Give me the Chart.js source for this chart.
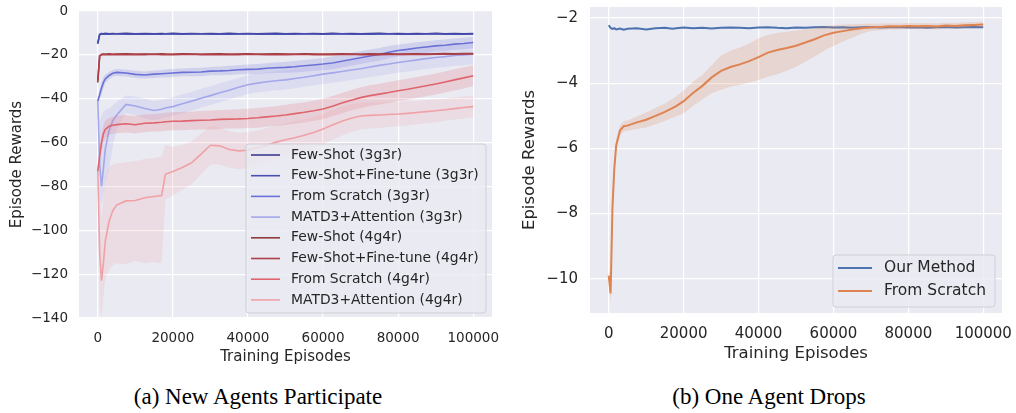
<!DOCTYPE html>
<html>
<head>
<meta charset="utf-8">
<script src="https://cdn.jsdelivr.net/npm/chart.js@4.4.1/dist/chart.umd.min.js"></script>
<style>
  body { margin: 0; background: #fff; width: 1016px; height: 413px; position: relative; overflow: hidden; }
  canvas { position: absolute; top: 0; }
  #leftChart { left: 0; }
  #rightChart { left: 508px; }
  .cap { position: absolute; top: 384px; font-family: 'Liberation Serif', 'Times New Roman', serif; font-size: 23px; color: #000; white-space: nowrap; transform: translateX(-50%); }
</style>
</head>
<body>
<canvas id="leftChart" width="508" height="372"></canvas>
<canvas id="rightChart" width="508" height="372"></canvas>
<div class="cap" style="left:258px">(a) New Agents Participate</div>
<div class="cap" style="left:769px">(b) One Agent Drops</div>
<script>
// Shared x positions (training episodes)
const episodes = [0, 500, 1000, 1500, 2000, 3000, 4000, 5000, 7500, 10000, 12500, 15000, 17000, 18000,
    20000, 22500, 25000, 27500, 30000, 32500, 35000, 37500, 40000, 42500, 45000, 47500, 50000, 52500,
    55000, 57500, 60000, 62500, 65000, 67500, 70000, 72500, 75000, 77500, 80000, 82500, 85000, 87500,
    90000, 92500, 95000, 97500, 100000];

const xTicks = [0, 20000, 40000, 60000, 80000, 100000];
const leftYTicks = [-140, -120, -100, -80, -60, -40, -20, 0];
const rightYTicks = [-10, -8, -6, -4, -2];

// (a) New Agents Participate
const leftLabels = ['Few-Shot (3g3r)', 'Few-Shot+Fine-tune (3g3r)', 'From Scratch (3g3r)', 'MATD3+Attention (3g3r)',
    'Few-Shot (4g4r)', 'Few-Shot+Fine-tune (4g4r)', 'From Scratch (4g4r)', 'MATD3+Attention (4g4r)'];
const leftColors = ['#3b3e8f', '#4a4fb3', '#6b70d6', '#a4a7ea', '#8e3a3a', '#b2404a', '#df646c', '#efa1a6'];

const fewShot3 = [-15.0, -10.6, -10.3, -10.4, -10.2, -10.4, -10.3, -10.4, -10.2, -10.4, -10.3, -10.4, -10.3, -10.4, -10.2, -10.4, -10.3, -10.4, -10.3, -10.4, -10.2, -10.4, -10.3, -10.4, -10.3, -10.2, -10.4, -10.3, -10.4, -10.3, -10.4, -10.2, -10.4, -10.3, -10.4, -10.3, -10.2, -10.4, -10.3, -10.4, -10.3, -10.4, -10.2, -10.4, -10.3, -10.4, -10.3];
const fineTune3 = [-14.5, -10.8, -10.5, -10.6, -10.5, -10.6, -10.5, -10.4, -10.6, -10.5, -10.6, -10.5, -10.6, -10.4, -10.5, -10.6, -10.5, -10.4, -10.6, -10.5, -10.6, -10.5, -10.4, -10.6, -10.5, -10.6, -10.5, -10.6, -10.4, -10.5, -10.6, -10.5, -10.4, -10.6, -10.5, -10.6, -10.5, -10.4, -10.6, -10.5, -10.6, -10.5, -10.4, -10.6, -10.5, -10.6, -10.5];
const scratch3 = [-41.0, -38.2, -35.1, -32.6, -31.0, -29.4, -28.4, -28.0, -28.3, -28.9, -29.2, -28.8, -28.6, -28.5, -28.3, -28.0, -27.9, -27.8, -27.4, -27.3, -27.1, -26.8, -26.6, -26.5, -26.1, -25.9, -25.7, -25.4, -25.0, -24.6, -24.2, -23.7, -22.9, -22.1, -21.3, -20.5, -19.8, -18.8, -18.0, -17.5, -16.9, -16.4, -15.9, -15.6, -15.1, -14.8, -14.4];
const scratch3Hi = [-40.0, -36.0, -32.5, -30.0, -29.0, -27.8, -26.9, -26.4, -26.7, -27.2, -27.6, -27.1, -26.9, -26.7, -26.5, -26.2, -26.0, -25.9, -25.5, -25.3, -25.0, -24.7, -24.4, -24.2, -23.8, -23.5, -23.2, -22.8, -22.3, -21.9, -21.4, -20.8, -20.0, -19.2, -18.4, -17.6, -16.9, -16.0, -15.3, -14.8, -14.3, -13.8, -13.3, -13.0, -12.5, -12.2, -11.8];
const scratch3Lo = [-42.0, -40.5, -37.8, -35.2, -33.0, -31.0, -29.9, -29.6, -29.9, -30.6, -30.8, -30.5, -30.3, -30.3, -30.1, -29.8, -29.8, -29.7, -29.3, -29.3, -29.2, -28.9, -28.8, -28.8, -28.4, -28.3, -28.2, -28.0, -27.7, -27.3, -27.0, -26.6, -25.8, -25.0, -24.2, -23.4, -22.7, -21.6, -20.7, -20.2, -19.5, -19.0, -18.5, -18.2, -17.7, -17.4, -17.0];
const attn3 = [-41.0, -70.0, -80.0, -72.0, -63.0, -54.5, -50.0, -47.5, -42.6, -43.3, -44.5, -45.4, -44.8, -44.2, -43.6, -42.3, -41.1, -39.8, -38.6, -37.3, -36.1, -34.8, -33.6, -32.9, -32.3, -31.8, -31.4, -30.8, -30.2, -29.5, -28.8, -28.2, -27.6, -26.9, -26.3, -25.5, -24.8, -24.2, -23.5, -22.9, -22.3, -21.7, -21.2, -20.8, -20.3, -20.0, -19.7];
const attn3Hi = [-40.0, -50.0, -48.0, -46.0, -45.0, -44.5, -43.0, -41.5, -38.5, -39.0, -40.0, -41.0, -40.5, -40.0, -39.5, -38.0, -36.8, -35.5, -34.3, -33.0, -31.8, -30.5, -29.3, -28.6, -28.0, -27.5, -27.0, -26.4, -25.8, -25.0, -24.3, -23.7, -23.0, -22.3, -21.7, -20.9, -20.1, -19.5, -18.8, -18.2, -17.6, -17.0, -16.5, -16.1, -15.6, -15.3, -15.0];
const attn3Lo = [-42.0, -86.0, -88.0, -84.0, -78.0, -72.0, -62.0, -54.0, -46.5, -47.5, -49.0, -49.8, -49.1, -48.5, -47.8, -46.6, -45.4, -44.1, -42.9, -41.6, -40.4, -39.1, -37.9, -37.2, -36.6, -36.1, -35.8, -35.2, -34.6, -34.0, -33.3, -32.7, -32.2, -31.5, -30.9, -30.1, -29.5, -28.9, -28.2, -27.6, -27.0, -26.4, -25.9, -25.5, -25.0, -24.7, -24.4];
const fewShot4 = [-32.6, -20.4, -19.8, -19.6, -19.7, -19.5, -19.7, -19.6, -19.5, -19.7, -19.6, -19.7, -19.5, -19.6, -19.7, -19.5, -19.6, -19.7, -19.6, -19.5, -19.7, -19.6, -19.5, -19.7, -19.6, -19.5, -19.6, -19.7, -19.5, -19.6, -19.7, -19.6, -19.5, -19.6, -19.7, -19.5, -19.6, -19.5, -19.7, -19.6, -19.5, -19.6, -19.5, -19.4, -19.5, -19.4, -19.4];
const fineTune4 = [-31.5, -20.6, -19.9, -19.8, -19.9, -19.8, -19.9, -19.8, -19.9, -19.8, -19.9, -19.7, -19.9, -19.8, -19.9, -19.8, -19.7, -19.9, -19.8, -19.9, -19.8, -19.9, -19.7, -19.8, -19.9, -19.8, -19.9, -19.8, -19.7, -19.9, -19.8, -19.9, -19.8, -19.7, -19.9, -19.8, -19.9, -19.8, -19.7, -19.8, -19.7, -19.8, -19.7, -19.6, -19.7, -19.6, -19.6];
const scratch4 = [-73.0, -66.0, -60.0, -56.0, -54.0, -52.6, -52.1, -51.8, -51.4, -51.9, -51.2, -51.0, -50.7, -50.5, -50.3, -50.2, -50.0, -49.8, -49.7, -49.4, -49.3, -49.2, -49.0, -48.7, -48.3, -47.9, -47.4, -46.8, -46.2, -45.5, -44.7, -43.4, -42.0, -40.7, -39.5, -38.6, -37.9, -37.2, -36.4, -35.7, -34.9, -34.1, -33.3, -32.4, -31.4, -30.5, -29.5];
const scratch4Hi = [-71.0, -62.0, -56.0, -52.0, -50.0, -48.8, -48.2, -47.8, -47.4, -47.9, -47.2, -47.0, -46.6, -46.4, -46.2, -46.0, -45.8, -45.6, -45.4, -45.1, -45.0, -44.8, -44.6, -44.2, -43.8, -43.4, -42.8, -42.2, -41.6, -40.9, -40.0, -38.8, -37.4, -36.0, -34.8, -33.9, -33.2, -32.4, -31.6, -30.9, -30.1, -29.3, -28.5, -27.6, -26.6, -25.7, -24.8];
const scratch4Lo = [-75.0, -70.0, -64.0, -60.0, -58.0, -56.4, -56.0, -55.8, -55.4, -55.9, -55.2, -55.0, -54.8, -54.6, -54.4, -54.4, -54.2, -54.0, -54.0, -53.7, -53.6, -53.6, -53.4, -53.2, -52.8, -52.4, -52.0, -51.4, -50.8, -50.1, -49.4, -48.0, -46.6, -45.4, -44.2, -43.3, -42.6, -42.0, -41.2, -40.5, -39.7, -38.9, -38.1, -37.2, -36.2, -35.3, -34.2];
const attn4 = [-73.0, -110.0, -123.0, -115.0, -105.0, -96.0, -91.0, -88.5, -86.6, -86.4, -85.2, -84.6, -84.2, -74.5, -73.2, -71.4, -69.2, -65.3, -61.2, -61.5, -63.2, -63.8, -63.5, -62.3, -61.2, -59.8, -58.7, -57.8, -56.7, -55.4, -53.8, -52.0, -50.3, -48.9, -47.9, -47.6, -47.4, -47.2, -47.0, -46.7, -46.3, -45.9, -45.5, -45.0, -44.5, -44.0, -43.6];
const attn4Hi = [-70.0, -80.0, -95.0, -85.0, -76.0, -71.0, -70.0, -69.5, -69.0, -68.5, -67.5, -67.0, -66.5, -61.0, -62.0, -61.0, -59.5, -56.0, -52.5, -53.0, -55.0, -55.5, -55.3, -54.5, -53.5, -52.2, -51.2, -50.3, -49.4, -48.3, -46.8, -45.2, -43.8, -42.5, -41.8, -41.6, -41.5, -41.5, -41.5, -41.2, -40.9, -40.6, -40.3, -39.9, -39.5, -39.0, -38.6];
const attn4Lo = [-76.0, -135.0, -139.5, -130.0, -122.0, -118.0, -116.0, -115.0, -115.5, -114.0, -115.0, -114.5, -115.0, -86.0, -84.0, -81.5, -79.0, -74.5, -70.0, -70.0, -71.5, -72.0, -71.7, -70.1, -68.9, -67.4, -66.2, -65.3, -64.0, -62.5, -60.8, -58.8, -56.8, -55.3, -54.0, -53.6, -53.3, -52.9, -52.5, -52.2, -51.7, -51.2, -50.7, -50.1, -49.5, -49.0, -48.6];

// (b) One Agent Drops
const rightLabels = ['Our Method', 'From Scratch'];
const rightColors = ['#4c72b0', '#dd8452'];
const ourMethod = [-2.22, -2.30, -2.33, -2.31, -2.35, -2.32, -2.36, -2.33, -2.31, -2.35, -2.31, -2.30, -2.33, -2.31, -2.29, -2.31, -2.30, -2.32, -2.30, -2.29, -2.30, -2.31, -2.29, -2.28, -2.30, -2.31, -2.29, -2.30, -2.28, -2.27, -2.29, -2.28, -2.30, -2.28, -2.27, -2.29, -2.28, -2.27, -2.29, -2.28, -2.30, -2.28, -2.27, -2.29, -2.28, -2.27, -2.28];
const fromScratch = [-9.90, -10.45, -7.80, -6.60, -5.90, -5.45, -5.32, -5.30, -5.20, -5.12, -5.00, -4.88, -4.76, -4.70, -4.55, -4.30, -4.08, -3.82, -3.62, -3.50, -3.42, -3.32, -3.20, -3.06, -2.98, -2.92, -2.85, -2.75, -2.65, -2.53, -2.45, -2.40, -2.35, -2.31, -2.28, -2.27, -2.25, -2.26, -2.24, -2.25, -2.24, -2.26, -2.23, -2.24, -2.22, -2.21, -2.20];
const fromScratchHi = [-9.60, -10.10, -7.40, -6.35, -5.72, -5.30, -5.16, -5.14, -5.02, -4.90, -4.76, -4.62, -4.48, -4.40, -4.22, -3.96, -3.74, -3.45, -3.15, -3.00, -2.90, -2.78, -2.62, -2.52, -2.46, -2.42, -2.38, -2.34, -2.30, -2.24, -2.22, -2.20, -2.19, -2.18, -2.17, -2.17, -2.16, -2.17, -2.15, -2.16, -2.15, -2.17, -2.14, -2.15, -2.13, -2.12, -2.11];
const fromScratchLo = [-10.20, -10.75, -8.20, -6.85, -6.08, -5.60, -5.48, -5.46, -5.40, -5.36, -5.26, -5.16, -5.06, -5.02, -4.92, -4.70, -4.50, -4.30, -4.20, -4.10, -4.05, -3.98, -3.90, -3.80, -3.72, -3.62, -3.50, -3.34, -3.18, -3.00, -2.86, -2.72, -2.60, -2.48, -2.40, -2.37, -2.34, -2.35, -2.33, -2.34, -2.33, -2.35, -2.32, -2.33, -2.31, -2.30, -2.29];

Chart.defaults.font.family = "'DejaVu Sans', sans-serif";
Chart.defaults.color = '#262626';

function pts(arr) {
    return episodes.map((x, i) => ({ x: x, y: arr[i] }));
}

function alpha(hex, a) {
    const n = parseInt(hex.slice(1), 16);
    return 'rgba(' + (n >> 16) + ',' + ((n >> 8) & 255) + ',' + (n & 255) + ',' + a + ')';
}

function minusFmt(v) {
    return v < 0 ? '\u2212' + (-v) : String(v);
}

// series -> line datasets plus an optional shaded band (hi fills down to lo)
function buildDatasets(series, width) {
    const out = [];
    let step = 0;
    series.forEach(s => {
        if (s.hi) {
            out.push({ data: pts(s.hi), borderWidth: 0, pointRadius: 0, fill: '+1',
                backgroundColor: alpha(s.color, 0.2), order: 1000 - step });
            out.push({ data: pts(s.lo), borderWidth: 0, pointRadius: 0, fill: false, order: 1000 - step });
        }
        step++;
        out.push({ label: s.label, data: pts(s.mean), borderColor: s.color, borderWidth: width,
            pointRadius: 0, fill: false, order: 1000 - step });
        step++;
    });
    return out;
}

// grey plot background
const plotBg = {
    id: 'plotBg',
    beforeDraw(chart) {
        const a = chart.chartArea;
        chart.ctx.save();
        chart.ctx.fillStyle = '#eaeaf2';
        chart.ctx.fillRect(a.left, a.top, a.right - a.left, a.bottom - a.top);
        chart.ctx.restore();
    }
};

// matplotlib style legend box
const boxLegend = {
    id: 'boxLegend',
    afterDraw(chart, args, o) {
        const ctx = chart.ctx;
        ctx.save();
        ctx.beginPath();
        ctx.roundRect(o.x, o.y, o.w, o.h, 3);
        ctx.fillStyle = 'rgba(234,234,242,0.8)';
        ctx.fill();
        ctx.strokeStyle = '#cfcfd6';
        ctx.lineWidth = 1;
        ctx.stroke();
        ctx.font = o.fontSize + "px 'DejaVu Sans'";
        ctx.textBaseline = 'middle';
        o.labels.forEach((label, i) => {
            const y = o.row0 + i * o.rowStep;
            ctx.strokeStyle = o.colors[i];
            ctx.lineWidth = o.lineWidth;
            ctx.beginPath();
            ctx.moveTo(o.hx0, y);
            ctx.lineTo(o.hx1, y);
            ctx.stroke();
            ctx.fillStyle = '#262626';
            ctx.fillText(label, o.tx, y);
        });
        ctx.restore();
    }
};

function makeOptions(cfg) {
    return {
        responsive: false,
        animation: false,
        devicePixelRatio: 1,
        layout: { padding: { top: cfg.padTop, right: cfg.padRight, left: 0, bottom: 0 } },
        plugins: {
            legend: { display: false },
            tooltip: { enabled: false },
            boxLegend: cfg.legend
        },
        scales: {
            x: {
                type: 'linear',
                min: -5000,
                max: 105000,
                afterBuildTicks: s => { s.ticks = xTicks.map(v => ({ value: v })); },
                // fixed axis height, no extra side padding from the labels
                afterFit: s => { s.height = cfg.xHeight; s.paddingLeft = 0; s.paddingRight = 0; },
                ticks: { callback: v => String(v), font: { size: cfg.tickSize }, padding: cfg.xPad, maxRotation: 0 },
                grid: { color: '#ffffff', lineWidth: 1.2, drawTicks: false },
                border: { display: false },
                title: { display: true, text: 'Training Episodes', font: { size: cfg.titleSize }, padding: { top: 0, bottom: cfg.xTitlePad } }
            },
            y: {
                min: cfg.yMin,
                max: cfg.yMax,
                afterBuildTicks: s => { s.ticks = cfg.yTicks.map(v => ({ value: v })); },
                afterFit: s => { s.width = cfg.yWidth; s.paddingTop = 0; s.paddingBottom = 0; },
                ticks: { callback: minusFmt, font: { size: cfg.tickSize }, padding: cfg.yPad },
                grid: { color: '#ffffff', lineWidth: 1.2, drawTicks: false },
                border: { display: false },
                title: { display: true, text: 'Episode Rewards', font: { size: cfg.titleSize }, padding: { top: cfg.yTitlePad, bottom: 0 } }
            }
        }
    };
}

const leftSeries = [
    { label: leftLabels[0], color: leftColors[0], mean: fewShot3 },
    { label: leftLabels[1], color: leftColors[1], mean: fineTune3 },
    { label: leftLabels[2], color: leftColors[2], mean: scratch3, hi: scratch3Hi, lo: scratch3Lo },
    { label: leftLabels[3], color: leftColors[3], mean: attn3, hi: attn3Hi, lo: attn3Lo },
    { label: leftLabels[4], color: leftColors[4], mean: fewShot4 },
    { label: leftLabels[5], color: leftColors[5], mean: fineTune4 },
    { label: leftLabels[6], color: leftColors[6], mean: scratch4, hi: scratch4Hi, lo: scratch4Lo },
    { label: leftLabels[7], color: leftColors[7], mean: attn4, hi: attn4Hi, lo: attn4Lo }
];

new Chart(document.getElementById('leftChart'), {
    type: 'line',
    data: { datasets: buildDatasets(leftSeries, 1.6) },
    plugins: [plotBg, boxLegend],
    options: makeOptions({
        padTop: 11, padRight: 16, xHeight: 54, yWidth: 79,
        yMin: -140, yMax: 0, yTicks: leftYTicks,
        tickSize: 13.5, titleSize: 15, xPad: 12, yPad: 11, xTitlePad: 6, yTitlePad: 8,
        legend: { x: 246, y: 144, w: 240, h: 169, row0: 155, rowStep: 20.7, hx0: 251, hx1: 280, tx: 291,
            fontSize: 13.9, lineWidth: 1.6, labels: leftLabels, colors: leftColors }
    })
});

const rightSeries = [
    { label: rightLabels[0], color: rightColors[0], mean: ourMethod },
    { label: rightLabels[1], color: rightColors[1], mean: fromScratch, hi: fromScratchHi, lo: fromScratchLo }
];

new Chart(document.getElementById('rightChart'), {
    type: 'line',
    data: { datasets: buildDatasets(rightSeries, 2) },
    plugins: [plotBg, boxLegend],
    options: makeOptions({
        padTop: 7, padRight: 14, xHeight: 59, yWidth: 82,
        yMin: -11.05, yMax: -1.66, yTicks: rightYTicks,
        tickSize: 15, titleSize: 16.5, xPad: 12, yPad: 12, xTitlePad: 8, yTitlePad: 12,
        legend: { x: 325, y: 255, w: 162, h: 52, row0: 268, rowStep: 23, hx0: 330, hx1: 364, tx: 376,
            fontSize: 15.5, lineWidth: 1.8, labels: rightLabels, colors: rightColors }
    })
});
</script>
</body>
</html>
